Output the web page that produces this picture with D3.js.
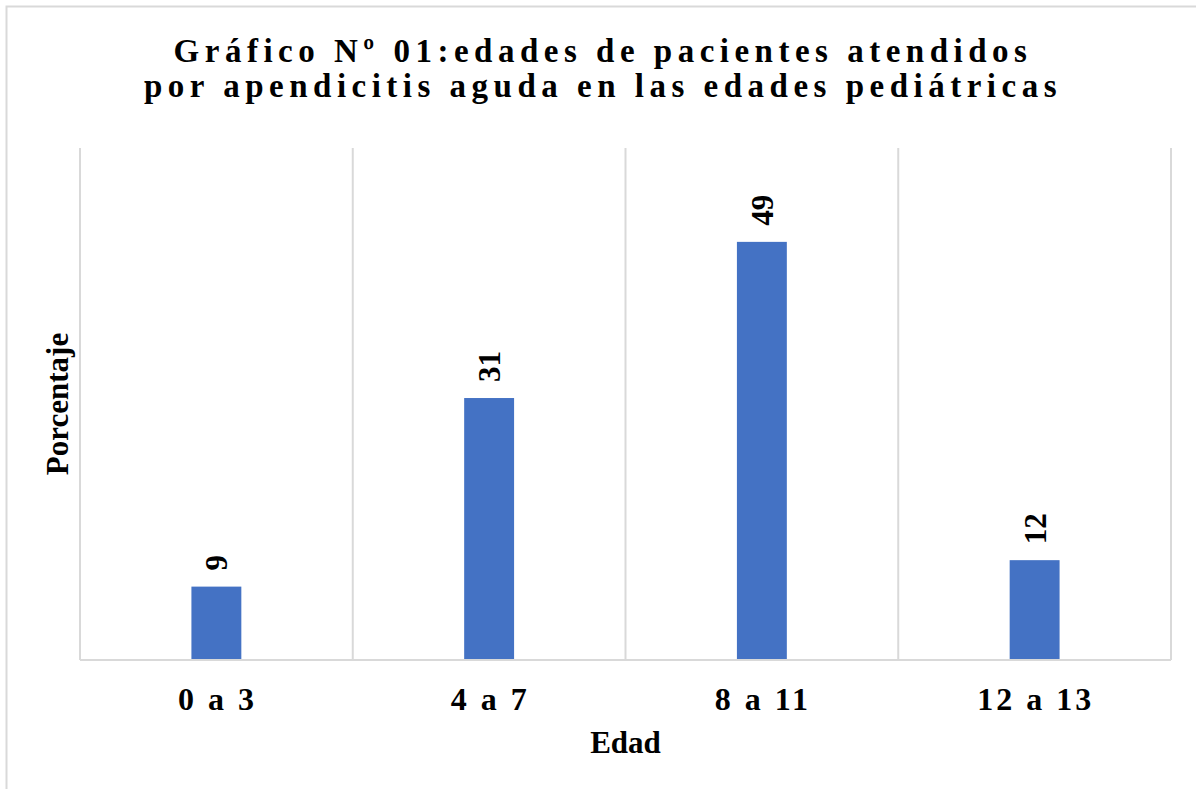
<!DOCTYPE html>
<html>
<head>
<meta charset="utf-8">
<script src="https://cdn.jsdelivr.net/npm/d3@7"></script>
<style>
  body { margin: 0; background: #fff; }
</style>
</head>
<body>
<div id="container"></div>
<script>
// chart data
const categories = ["0 a 3", "4 a 7", "8 a 11", "12 a 13"];
const values = [8.6, 30.7, 49.0, 11.7];
const titleLines = ["Gráfico Nº 01:edades de pacientes atendidos", "por apendicitis aguda en las edades pediátricas"];
const xTitle = "Edad";
const yTitle = "Porcentaje";

const w = 1196;
const h = 789;
const margin = { top: 148, right: 25, bottom: 129, left: 80 };
const serif = "Liberation Serif";

const svg = d3.select("#container").
  append("svg").
  attr("width", w).
  attr("height", h);

// outer chart border (right / bottom edges fall outside the picture)
svg.append("rect").
  attr("x", 6.5).
  attr("y", 6.5).
  attr("width", w + 20).
  attr("height", h + 20).
  attr("fill", "#fff").
  attr("stroke", "#d9d9d9").
  attr("stroke-width", 2);

const xScale = d3.scaleBand().
  domain(categories).
  range([margin.left, w - margin.right]).
  padding(0);

const yScale = d3.scaleLinear().
  domain([0, 60]).
  range([h - margin.bottom, margin.top]);

const barW = xScale.bandwidth() * 0.183;

// vertical category separators
const edges = categories.map(c => xScale(c)).concat([xScale.range()[1]]);
svg.append("g").
  selectAll("line").
  data(edges).
  enter().
  append("line").
  attr("x1", d => d).
  attr("x2", d => d).
  attr("y1", yScale(60)).
  attr("y2", yScale(0)).
  attr("stroke", "#d9d9d9").
  attr("stroke-width", 2);

// bars
svg.selectAll("rect.bar").
  data(values).
  enter().
  append("rect").
  attr("class", "bar").
  attr("x", (d, i) => xScale(categories[i]) + xScale.bandwidth() / 2 - barW / 2).
  attr("y", d => yScale(d)).
  attr("width", barW).
  attr("height", d => yScale(0) - yScale(d)).
  attr("fill", "#4472c4");

// baseline
svg.append("line").
  attr("x1", xScale.range()[0]).
  attr("x2", xScale.range()[1]).
  attr("y1", yScale(0)).
  attr("y2", yScale(0)).
  attr("stroke", "#d9d9d9").
  attr("stroke-width", 2);

function boldText(sel, size) {
  return sel.
    style("font-family", serif).
    style("font-weight", "bold").
    style("font-size", size + "px").
    attr("fill", "#000");
}

// value labels, rotated
svg.selectAll("text.value").
  data(values).
  enter().
  append("text").
  attr("class", "value").
  attr("transform", (d, i) => {
    const cx = xScale(categories[i]) + xScale.bandwidth() / 2;
    return `translate(${cx + 11}, ${yScale(d) - 16}) rotate(-90)`;
  }).
  attr("text-anchor", "start").
  call(boldText, 31).
  text(d => d3.format(".0f")(d));

// x axis tick labels
svg.selectAll("text.tick").
  data(categories).
  enter().
  append("text").
  attr("class", "tick").
  attr("x", d => xScale(d) + xScale.bandwidth() / 2 + 1).
  attr("y", 710).
  attr("text-anchor", "middle").
  call(boldText, 32).
  style("letter-spacing", "3px").
  text(d => d);

// axis titles
svg.append("text").
  attr("x", (xScale.range()[0] + xScale.range()[1]) / 2).
  attr("y", 753).
  attr("text-anchor", "middle").
  call(boldText, 31).
  text(xTitle);

svg.append("text").
  attr("transform", "translate(68, 404) rotate(-90)").
  attr("text-anchor", "middle").
  call(boldText, 31).
  text(yTitle);

// title
svg.selectAll("text.title").
  data(titleLines).
  enter().
  append("text").
  attr("class", "title").
  attr("x", 603).
  attr("y", (d, i) => 62 + i * 35).
  attr("text-anchor", "middle").
  call(boldText, 33).
  style("letter-spacing", "5.5px").
  text(d => d);
</script>
</body>
</html>
